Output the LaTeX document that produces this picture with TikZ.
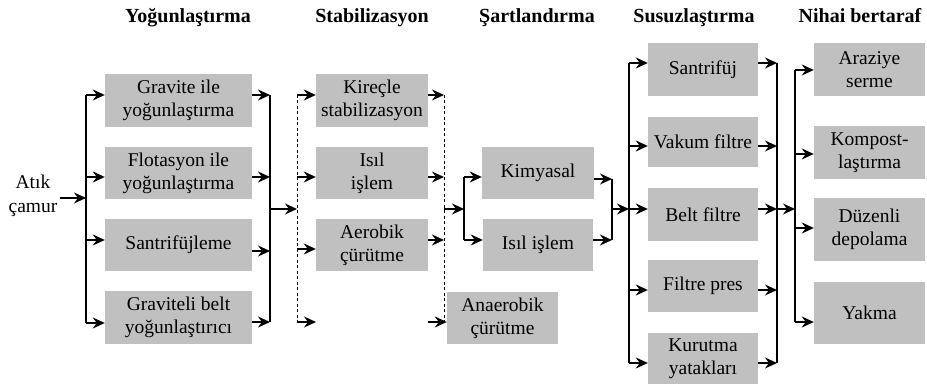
\documentclass[tikz,border=0pt]{standalone}
\usepackage{fontspec}
\setmainfont{Liberation Serif}
\usetikzlibrary{arrows.meta}
\definecolor{boxgray}{RGB}{192,192,192}
\begin{document}
\begin{tikzpicture}[x=1pt,y=-1pt,
 box/.style={fill=boxgray, inner sep=0pt, align=center, font=\fontsize{19.5}{23}\selectfont},
 ttl/.style={font=\bfseries\fontsize{20}{24}\selectfont, inner sep=0pt, anchor=base},
 arr/.style={line width=1.4pt, -{Stealth[length=12pt,width=11pt,inset=4pt]}},
 bus/.style={line width=1.2pt},
 dbus/.style={line width=1pt, dash pattern=on 3pt off 2.5pt},
]
\useasboundingbox (0,0) rectangle (927,387);
% titles
\node[ttl] (t1) at (188,23) {Yoğunlaştırma};
\node[ttl] (t2) at (372,23) {Stabilizasyon};
\node[ttl] (t3) at (537,23) {Şartlandırma};
\node[ttl] (t4) at (694,23) {Susuzlaştırma};
\node[ttl] (t5) at (860,23) {Nihai bertaraf};
% input
\node[align=center, inner sep=2pt, font=\fontsize{19.5}{24}\selectfont] (atik) at (33,196) {Atık\\çamur};
% column 1
\node[box, minimum width=147pt, minimum height=53pt] (g1) at (178.5,100.5) {Gravite ile\\yoğunlaştırma};
\node[box, minimum width=147pt, minimum height=52pt] (g2) at (178.5,173) {Flotasyon ile\\yoğunlaştırma};
\node[box, minimum width=147pt, minimum height=52pt] (g3) at (178.5,245) {Santrifüjleme};
\node[box, minimum width=147pt, minimum height=53pt] (g4) at (178.5,317.5) {Graviteli belt\\yoğunlaştırıcı};
% column 2
\node[box, minimum width=112pt, minimum height=53pt] (k1) at (372,100.5) {Kireçle\\stabilizasyon};
\node[box, minimum width=112pt, minimum height=52pt] (k2) at (372,173) {Isıl\\işlem};
\node[box, minimum width=112pt, minimum height=52pt] (k3) at (372,245) {Aerobik\\çürütme};
\node[box, minimum width=111pt, minimum height=52pt] (ana) at (502.5,318) {Anaerobik\\çürütme};
% column 3
\node[box, minimum width=112pt, minimum height=52pt] (kim) at (538,173) {Kimyasal};
\node[box, minimum width=110pt, minimum height=52pt] (isl) at (538,245) {Isıl işlem};
% column 4
\node[box, minimum width=110pt, minimum height=53pt] (s1) at (703,69.5) {Santrifüj};
\node[box, minimum width=110pt, minimum height=50pt] (s2) at (703,142) {Vakum filtre};
\node[box, minimum width=110pt, minimum height=53pt] (s3) at (703,214.5) {Belt filtre};
\node[box, minimum width=110pt, minimum height=52pt] (s4) at (703,286) {Filtre pres};
\node[box, minimum width=110pt, minimum height=51pt] (s5) at (703,358.5) {Kurutma\\yatakları};
% column 5
\node[box, minimum width=111pt, minimum height=53pt] (n1) at (869.5,69.5) {Araziye\\serme};
\node[box, minimum width=111pt, minimum height=53pt] (n2) at (869.5,152.5) {Kompost-\\laştırma};
\node[box, minimum width=111pt, minimum height=63pt] (n3) at (869.5,229.5) {Düzenli\\depolama};
\node[box, minimum width=111pt, minimum height=62pt] (n4) at (869.5,313) {Yakma};
% bus coordinates
\coordinate (L1t) at (86,95);  \coordinate (L1b) at (86,323);
\coordinate (R1t) at (270,95); \coordinate (R1b) at (270,322);
\coordinate (S1t) at (297,95); \coordinate (S1b) at (297,322);
\coordinate (S2t) at (444,95); \coordinate (S2b) at (444,322);
\coordinate (T1t) at (464,177); \coordinate (T1b) at (464,240);
\coordinate (T2t) at (612,179); \coordinate (T2b) at (612,240);
\coordinate (U1t) at (629,63); \coordinate (U1b) at (629,363);
\coordinate (U2t) at (777,63); \coordinate (U2b) at (777,363);
\coordinate (V1t) at (795,70); \coordinate (V1b) at (795,322);
\coordinate (stub1) at (316,322);
\coordinate (stub2) at (428,322);
% buses
\draw[bus] (L1t) -- (L1b);
\draw[bus] (R1t) -- (R1b);
\draw[dbus] (S1t) -- (S1b);
\draw[dbus] (S2t) -- (S2b);
\draw[bus] (T1t) -- (T1b);
\draw[bus] (T2t) -- (T2b);
\draw[bus] (U1t) -- (U1b);
\draw[bus] (U2t) -- (U2b);
\draw[bus] (V1t) -- (V1b);
% input arrow
\draw[arr] (atik.east |- 0,198) -- (L1t |- 0,198);
% column 1 arrows
\draw[arr] (L1t) -- (g1.west |- L1t);
\draw[arr] (L1t |- 0,177) -- (g2.west |- 0,177);
\draw[arr] (L1t |- 0,240) -- (g3.west |- 0,240);
\draw[arr] (L1b) -- (g4.west |- L1b);
\draw[arr] (g1.east |- R1t) -- (R1t);
\draw[arr] (g2.east |- 0,177) -- (R1t |- 0,177);
\draw[arr] (g3.east |- 0,251) -- (R1t |- 0,251);
\draw[arr] (g4.east |- R1b) -- (R1b);
\draw[arr] (R1t |- 0,209) -- (S1t |- 0,209);
% column 2 arrows
\draw[arr] (S1t) -- (k1.west |- S1t);
\draw[arr] (S1t |- 0,177) -- (k2.west |- 0,177);
\draw[arr] (S1t |- 0,249) -- (k3.west |- 0,249);
\draw[arr] (S1b) -- (stub1);
\draw[arr] (k1.east |- S2t) -- (S2t);
\draw[arr] (k2.east |- 0,177) -- (S2t |- 0,177);
\draw[arr] (k3.east |- 0,240) -- (S2t |- 0,240);
\draw[arr] (stub2) -- (ana.west |- stub2);
\draw[arr] (S2t |- 0,209) -- (T1t |- 0,209);
% column 3 arrows
\draw[arr] (T1t) -- (kim.west |- T1t);
\draw[arr] (T1b) -- (isl.west |- T1b);
\draw[arr] (kim.east |- T2t) -- (T2t);
\draw[arr] (isl.east |- T2b) -- (T2b);
\draw[arr] (T2t |- 0,209) -- (U1t |- 0,209);
% column 4 arrows
\draw[arr] (U1t) -- (s1.west |- U1t);
\draw[arr] (U1t |- 0,146) -- (s2.west |- 0,146);
\draw[arr] (U1t |- 0,209) -- (s3.west |- 0,209);
\draw[arr] (U1t |- 0,290) -- (s4.west |- 0,290);
\draw[arr] (U1b) -- (s5.west |- U1b);
\draw[arr] (s1.east |- U2t) -- (U2t);
\draw[arr] (s2.east |- 0,146) -- (U2t |- 0,146);
\draw[arr] (s3.east |- 0,209) -- (U2t |- 0,209);
\draw[arr] (s4.east |- 0,290) -- (U2t |- 0,290);
\draw[arr] (s5.east |- U2b) -- (U2b);
\draw[arr] (U2t |- 0,209) -- (V1t |- 0,209);
% column 5 arrows
\draw[arr] (V1t) -- (n1.west |- V1t);
\draw[arr] (V1t |- 0,154) -- (n2.west |- 0,154);
\draw[arr] (V1t |- 0,228) -- (n3.west |- 0,228);
\draw[arr] (V1b) -- (n4.west |- V1b);
\end{tikzpicture}
\end{document}
